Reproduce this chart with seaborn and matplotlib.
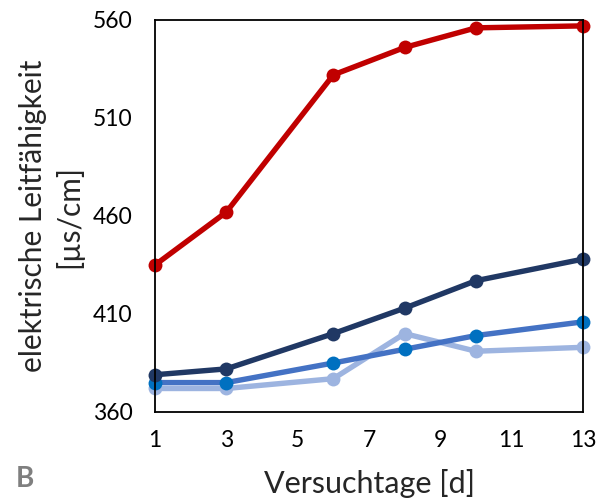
import matplotlib
matplotlib.use("Agg")
import matplotlib.pyplot as plt
import seaborn as sns
import pandas as pd

days = [1, 3, 6, 8, 10, 13]
series_red = [435, 462, 532, 546, 556, 557]
series_navy = [379, 382, 400, 413, 427, 438]
series_blue = [375, 375, 385, 392, 399, 406]
series_light = [372, 372, 377, 400, 391, 393]
x_ticks = [1, 3, 5, 7, 9, 11, 13]
y_ticks = [360, 410, 460, 510, 560]

names = ["light", "blue", "navy", "red"]
values = [series_light, series_blue, series_navy, series_red]
line_colors = {"red": "#C00000", "navy": "#203864", "blue": "#4472C4", "light": "#9DB4E0"}
marker_colors = {"red": "#C00000", "navy": "#203864", "blue": "#0070C0", "light": "#9DB4E0"}

rows = []
for n, v in zip(names, values):
    for d, y in zip(days, v):
        rows.append({"Tag": d, "Wert": y, "Serie": n})
df = pd.DataFrame(rows)

sns.set_style("white")
plt.rcParams['font.family'] = ['Lato', 'DejaVu Sans']

fig = plt.figure(figsize=(6.05, 5.03), dpi=100)
ax = fig.add_axes([155/605, 1-412/503, (583-155)/605, (412-20)/503])

sns.lineplot(data=df, x="Tag", y="Wert", hue="Serie", hue_order=names,
             palette=line_colors, marker="o", markersize=10, linewidth=3.9,
             markeredgewidth=0, ax=ax, legend=False)
for line, n in zip(ax.get_lines(), names):
    line.set_markerfacecolor(marker_colors[n])
    line.set_markeredgecolor(marker_colors[n])
    line.set_clip_on(False)
    line.set_solid_capstyle("round")

ax.set_xlim(1, 13)
ax.set_ylim(360, 560)
ax.set_xticks(x_ticks)
ax.set_yticks(y_ticks)
ax.tick_params(direction="in", length=5, width=1.2, labelsize=16.5, colors="black")
ax.tick_params(axis="x", pad=13)
ax.tick_params(axis="y", pad=16)
for s in ax.spines.values():
    s.set_color("black")
    s.set_linewidth(1.3)
ax.set_xlabel("Versuchtage [d]", fontsize=22, labelpad=13)
ax.set_ylabel("elektrische Leitfähigkeit\n[µs/cm]", fontsize=21.5, labelpad=7, linespacing=1.3)
fig.text(16/605, 1-479/503, "B", fontsize=20, fontweight="bold", color="#7F7F7F", va="center")

fig.savefig("out.png", dpi=100)
